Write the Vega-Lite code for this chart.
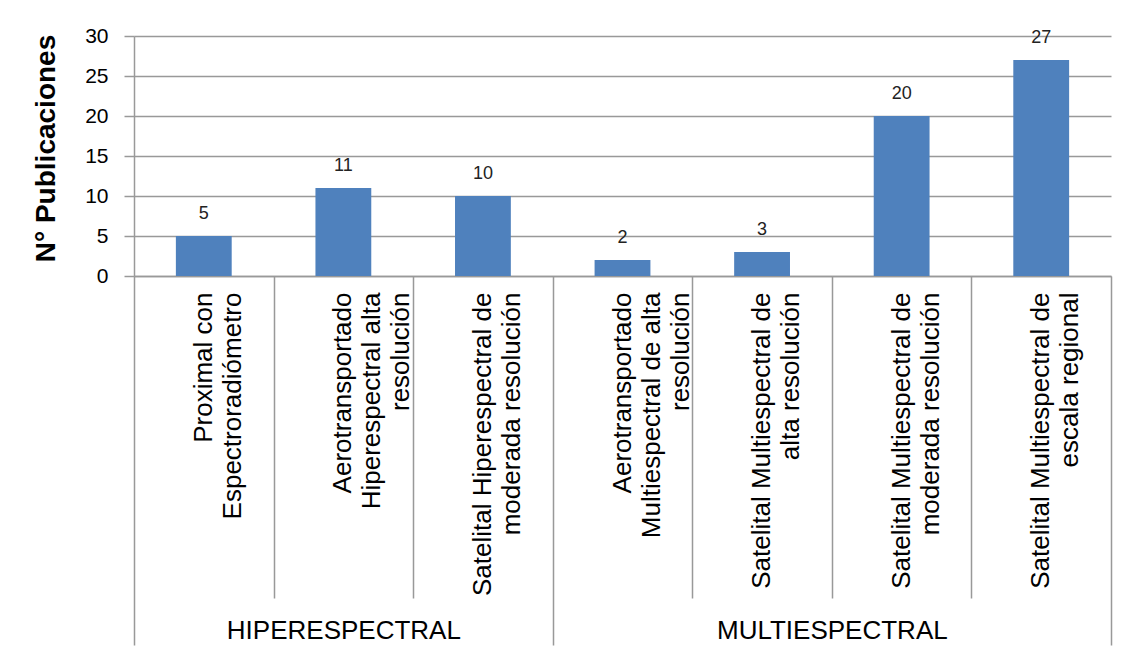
{
  "$schema": "https://vega.github.io/schema/vega-lite/v6.json",
  "width": 977,
  "height": 240,
  "autosize": {"type": "none"},
  "padding": {"left": 134, "top": 36, "right": 24, "bottom": 379},
  "background": "white",
  "config": {
    "view": {"stroke": null},
    "font": "Liberation Sans"
  },
  "datasets": {
    "publicaciones": [
      {"grupo": "HIPERESPECTRAL", "categoria": "Proximal con|Espectroradiómetro", "n": 5},
      {"grupo": "HIPERESPECTRAL", "categoria": "Aerotransportado|Hiperespectral alta|resolución", "n": 11},
      {"grupo": "HIPERESPECTRAL", "categoria": "Satelital Hiperespectral de|moderada resolución", "n": 10},
      {"grupo": "MULTIESPECTRAL", "categoria": "Aerotransportado|Multiespectral de alta|resolución", "n": 2},
      {"grupo": "MULTIESPECTRAL", "categoria": "Satelital Multiespectral de|alta resolución", "n": 3},
      {"grupo": "MULTIESPECTRAL", "categoria": "Satelital Multiespectral de|moderada resolución", "n": 20},
      {"grupo": "MULTIESPECTRAL", "categoria": "Satelital Multiespectral de|escala regional", "n": 27}
    ],
    "grupos": [
      {"grupo": "HIPERESPECTRAL", "inicio": 0, "fin": 3},
      {"grupo": "MULTIESPECTRAL", "inicio": 3, "fin": 7}
    ]
  },
  "layer": [
    {
      "data": {"name": "publicaciones"},
      "encoding": {
        "x": {
          "field": "categoria",
          "type": "nominal",
          "sort": null,
          "scale": {"paddingInner": 0.6, "paddingOuter": 0.3},
          "axis": {
            "title": null,
            "orient": "bottom",
            "labelExpr": "split(datum.label, '|')",
            "labelAngle": -90,
            "labelAlign": "right",
            "labelBaseline": "middle",
            "labelFontSize": 26,
            "labelLineHeight": 29,
            "labelColor": "#000000",
            "labelLimit": 500,
            "labelOverlap": false,
            "labelBound": false,
            "labelFlush": false,
            "labelPadding": 16,
            "ticks": false,
            "domainColor": "#999999",
            "domainWidth": 1.5,
            "grid": false
          }
        },
        "y": {
          "field": "n",
          "type": "quantitative",
          "scale": {"domain": [0, 30], "nice": false},
          "axis": {
            "title": "N° Publicaciones",
            "titleFontSize": 28,
            "titleFontWeight": "bold",
            "titleColor": "#000000",
            "titleX": -88,
            "titleY": 112,
            "titleBaseline": "middle",
            "values": [0, 5, 10, 15, 20, 25, 30],
            "labelFontSize": 21,
            "labelColor": "#000000",
            "labelPadding": 16,
            "tickSize": 10,
            "tickColor": "#999999",
            "tickWidth": 1.5,
            "domainColor": "#999999",
            "domainWidth": 1.5,
            "grid": true,
            "gridColor": "#999999",
            "gridWidth": 1.5
          }
        }
      },
      "layer": [
        {"mark": {"type": "bar", "color": "#4F81BD"}},
        {
          "mark": {"type": "text", "baseline": "middle", "dy": -22, "fontSize": 18, "color": "#222222"},
          "encoding": {"text": {"field": "n", "type": "quantitative"}}
        }
      ]
    },
    {
      "data": {"name": "grupos"},
      "mark": {"type": "rule", "opacity": 0},
      "encoding": {
        "x": {
          "field": "fin",
          "type": "quantitative",
          "scale": {"domain": [0, 7], "nice": false, "zero": false},
          "axis": {
            "title": null,
            "orient": "bottom",
            "values": [1, 2, 4, 5, 6],
            "labels": false,
            "tickSize": 322,
            "tickColor": "#999999",
            "tickWidth": 1.5,
            "domain": false,
            "grid": false
          }
        }
      }
    },
    {
      "data": {"name": "grupos"},
      "mark": {"type": "rule", "opacity": 0},
      "encoding": {
        "x": {
          "field": "inicio",
          "type": "quantitative",
          "scale": {"domain": [0, 7], "nice": false, "zero": false},
          "axis": {
            "title": null,
            "orient": "bottom",
            "values": [0, 1.5, 3, 5, 7],
            "labelExpr": "datum.value == 1.5 ? 'HIPERESPECTRAL' : datum.value == 5 ? 'MULTIESPECTRAL' : ''",
            "labelFontSize": 26,
            "labelColor": "#000000",
            "labelBaseline": "top",
            "labelPadding": -28,
            "labelLimit": 500,
            "labelOverlap": false,
            "labelBound": false,
            "labelFlush": false,
            "tickSize": 369,
            "tickColor": "#999999",
            "tickWidth": 1.5,
            "tickOpacity": {"condition": {"test": "datum.value == 1.5 || datum.value == 5", "value": 0}, "value": 1},
            "domain": false,
            "grid": false
          }
        }
      }
    }
  ],
  "resolve": {"scale": {"x": "independent"}, "axis": {"x": "independent"}}
}
